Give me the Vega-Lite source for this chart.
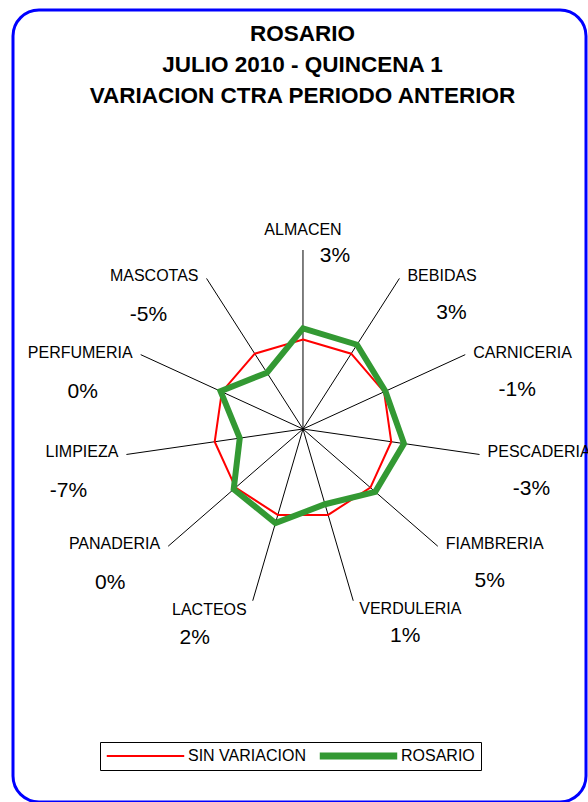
{
  "$schema": "https://vega.github.io/schema/vega-lite/v6.json",
  "width": 588,
  "height": 802,
  "autosize": {"type": "fit", "contains": "padding"},
  "padding": {"left": 13, "top": 10, "right": 0, "bottom": 0},
  "background": "white",
  "config": {
    "view": {"stroke": "#0000ff", "strokeWidth": 3, "cornerRadius": 26, "fill": "white"},
    "font": "Liberation Sans"
  },
  "title": {
    "text": ["ROSARIO", "JULIO 2010 - QUINCENA 1", "VARIACION  CTRA PERIODO ANTERIOR"],
    "fontSize": 22.5,
    "fontWeight": "bold",
    "font": "Liberation Sans",
    "color": "black",
    "lineHeight": 31,
    "anchor": "middle",
    "orient": "top",
    "frame": "group",
    "offset": -97,
    "dx": 3
  },
  "datasets": {
    "cats": [
      {"categoria": "ALMACEN", "orden": 0, "SIN VARIACION": 0, "ROSARIO": 3.1, "etiqueta": "3%"},
      {"categoria": "BEBIDAS", "orden": 1, "SIN VARIACION": 0, "ROSARIO": 3.0, "etiqueta": "3%"},
      {"categoria": "CARNICERIA", "orden": 2, "SIN VARIACION": 0, "ROSARIO": 0.4, "etiqueta": "-1%"},
      {"categoria": "PESCADERIA", "orden": 3, "SIN VARIACION": 0, "ROSARIO": 3.6, "etiqueta": "-3%"},
      {"categoria": "FIAMBRERIA", "orden": 4, "SIN VARIACION": 0, "ROSARIO": 1.8, "etiqueta": "5%"},
      {"categoria": "VERDULERIA", "orden": 5, "SIN VARIACION": 0, "ROSARIO": -3.1, "etiqueta": "1%"},
      {"categoria": "LACTEOS", "orden": 6, "SIN VARIACION": 0, "ROSARIO": 2.4, "etiqueta": "2%"},
      {"categoria": "PANADERIA", "orden": 7, "SIN VARIACION": 0, "ROSARIO": 0.7, "etiqueta": "0%"},
      {"categoria": "LIMPIEZA", "orden": 8, "SIN VARIACION": 0, "ROSARIO": -7.1, "etiqueta": "-7%"},
      {"categoria": "PERFUMERIA", "orden": 9, "SIN VARIACION": 0, "ROSARIO": 0.4, "etiqueta": "0%"},
      {"categoria": "MASCOTAS", "orden": 10, "SIN VARIACION": 0, "ROSARIO": -6.3, "etiqueta": "-5%"}
    ]
  },
  "data": {"name": "cats"},
  "transform": [
    {"calculate": "datum.orden * 2 * PI / 11", "as": "ang"},
    {"calculate": "sin(datum.ang)", "as": "sx"},
    {"calculate": "cos(datum.ang)", "as": "cy"},
    {"calculate": "50 * datum.sx", "as": "ex"},
    {"calculate": "50 * datum.cy", "as": "ey"}
  ],
  "layer": [
    {
      "mark": {"type": "rule", "color": "black", "strokeWidth": 1},
      "encoding": {
        "x": {"field": "ex", "type": "quantitative", "scale": {"domain": [-81.28, 79.33], "nice": false, "zero": false}, "axis": null},
        "y": {"field": "ey", "type": "quantitative", "scale": {"domain": [-104.19, 117.04], "nice": false, "zero": false}, "axis": null},
        "x2": {"datum": 0},
        "y2": {"datum": 0}
      }
    },
    {
      "transform": [
        {"fold": ["SIN VARIACION", "ROSARIO"], "as": ["serie", "valor"]},
        {"calculate": "(datum.valor + 25) * datum.sx", "as": "rx"},
        {"calculate": "(datum.valor + 25) * datum.cy", "as": "ry"}
      ],
      "mark": {"type": "line", "interpolate": "linear-closed", "strokeJoin": "miter"},
      "encoding": {
        "x": {"field": "rx", "type": "quantitative"},
        "y": {"field": "ry", "type": "quantitative"},
        "order": {"field": "orden", "type": "quantitative"},
        "color": {
          "field": "serie",
          "type": "nominal",
          "scale": {"domain": ["SIN VARIACION", "ROSARIO"], "range": ["#ff0000", "#339933"]},
          "legend": {
            "orient": "none",
            "legendX": 87,
            "legendY": 732,
            "direction": "horizontal",
            "title": null,
            "symbolType": "stroke",
            "symbolSize": 6000,
            "symbolStrokeWidth": 2,
            "symbolOffset": 31.5,
            "labelFontSize": 16,
            "labelFont": "Liberation Sans",
            "labelColor": "black",
            "strokeColor": "black",
            "fillColor": "white",
            "padding": 6,
            "labelOffset": 34.5,
            "columnPadding": 10,
            "gridAlign": "none",
            "encode": {"symbols": {"update": {"strokeWidth": {"signal": "datum.value === 'ROSARIO' ? 7 : 2"}, "strokeJoin": {"value": "round"}}}}
          }
        },
        "strokeWidth": {"condition": {"test": "datum.serie === 'ROSARIO'", "value": 6}, "value": 2}
      }
    },
    {
      "transform": [{"filter": "abs(datum.sx) < 0.01"}],
      "mark": {"type": "text", "align": "center", "baseline": "bottom", "dy": -12, "fontSize": 16, "color": "black"},
      "encoding": {"x": {"field": "ex", "type": "quantitative"}, "y": {"field": "ey", "type": "quantitative"}, "text": {"field": "categoria"}}
    },
    {
      "transform": [{"filter": "datum.sx > 0.01 && datum.cy > -0.9"}],
      "mark": {"type": "text", "align": "left", "baseline": "middle", "dx": 8, "dy": -2, "fontSize": 16, "color": "black"},
      "encoding": {"x": {"field": "ex", "type": "quantitative"}, "y": {"field": "ey", "type": "quantitative"}, "text": {"field": "categoria"}}
    },
    {
      "transform": [{"filter": "datum.sx < -0.01 && datum.cy > -0.9"}],
      "mark": {"type": "text", "align": "right", "baseline": "middle", "dx": -8, "dy": -2, "fontSize": 16, "color": "black"},
      "encoding": {"x": {"field": "ex", "type": "quantitative"}, "y": {"field": "ey", "type": "quantitative"}, "text": {"field": "categoria"}}
    },
    {
      "transform": [{"filter": "datum.sx > 0.01 && datum.cy <= -0.9"}],
      "mark": {"type": "text", "align": "left", "baseline": "top", "dx": 6, "dy": 0, "fontSize": 16, "color": "black"},
      "encoding": {"x": {"field": "ex", "type": "quantitative"}, "y": {"field": "ey", "type": "quantitative"}, "text": {"field": "categoria"}}
    },
    {
      "transform": [{"filter": "datum.sx < -0.01 && datum.cy <= -0.9"}],
      "mark": {"type": "text", "align": "right", "baseline": "top", "dx": -6, "dy": 1, "fontSize": 16, "color": "black"},
      "encoding": {"x": {"field": "ex", "type": "quantitative"}, "y": {"field": "ey", "type": "quantitative"}, "text": {"field": "categoria"}}
    },
    {
      "transform": [{"filter": "abs(datum.sx) < 0.01"}],
      "mark": {"type": "text", "align": "center", "baseline": "middle", "dx": 32, "dy": 6, "fontSize": 21, "color": "black"},
      "encoding": {"x": {"field": "ex", "type": "quantitative"}, "y": {"field": "ey", "type": "quantitative"}, "text": {"field": "etiqueta"}}
    },
    {
      "transform": [{"filter": "datum.sx > 0.01"}],
      "mark": {"type": "text", "align": "center", "baseline": "middle", "dx": 52, "dy": 35, "fontSize": 21, "color": "black"},
      "encoding": {"x": {"field": "ex", "type": "quantitative"}, "y": {"field": "ey", "type": "quantitative"}, "text": {"field": "etiqueta"}}
    },
    {
      "transform": [{"filter": "datum.sx < -0.01"}],
      "mark": {"type": "text", "align": "center", "baseline": "middle", "dx": -58, "dy": 37, "fontSize": 21, "color": "black"},
      "encoding": {"x": {"field": "ex", "type": "quantitative"}, "y": {"field": "ey", "type": "quantitative"}, "text": {"field": "etiqueta"}}
    }
  ]
}
